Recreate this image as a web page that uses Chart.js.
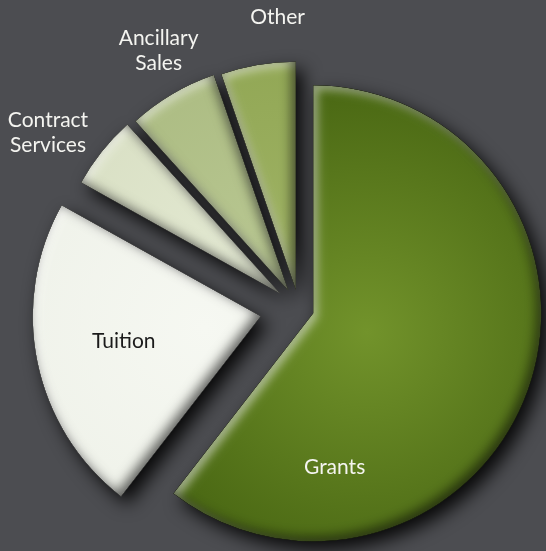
<!DOCTYPE html>
<html>
<head>
<meta charset="utf-8">
<script src="https://cdn.jsdelivr.net/npm/chart.js@4.4.1/dist/chart.umd.min.js"></script>
<style>
  html, body { margin: 0; padding: 0; background: #4c4d51; }
  #wrap { width: 546px; height: 551px; }
</style>
</head>
<body>
<div id="wrap"><canvas id="pie"></canvas></div>
<script>
const categories = ['Grants', 'Tuition', 'Contract Services', 'Ancillary Sales', 'Other']
const shares = [60.5, 22.6, 5.2, 6.4, 5.3]

const lightColors = ['#72932b', '#f6f8f2', '#e3e9d2', '#b7c690', '#9db162']
const darkColors = ['#4b6914', '#eef1e8', '#d6ddc0', '#a9b97f', '#8ea451']
const explode = [15, 39, 24, 21, 19]
const labelFrac = [0.79, 0.52, 0.30, 0.60, 0.80]
const labelDist = [0.68, 0.61, 1.24, 1.20, 1.20]
const labelColors = ['#f4f4f0', '#1b1b1b', '#f4f4f0', '#f4f4f0', '#f4f4f0']

function slicePath(ctx, p, arc) {
  ctx.beginPath()
  ctx.moveTo(p.x, p.y)
  ctx.arc(p.x, p.y, arc.outerRadius, arc.startAngle, arc.endAngle)
  ctx.closePath()
}

// where the slice tip ends up after pulling it out
function shifted(arc) {
  const mid = (arc.startAngle + arc.endAngle) / 2
  const off = arc.options.offset || 0
  return { x: arc.x + Math.cos(mid) * off, y: arc.y + Math.sin(mid) * off }
}

function innerShadow(ctx, p, arc, color, dx, dy, blur) {
  ctx.save()
  ctx.shadowColor = color
  ctx.shadowBlur = blur
  ctx.shadowOffsetX = dx
  ctx.shadowOffsetY = dy
  ctx.beginPath()
  ctx.rect(-2000, -2000, 5000, 5000)
  ctx.moveTo(p.x, p.y)
  ctx.arc(p.x, p.y, arc.outerRadius, arc.startAngle, arc.endAngle)
  ctx.closePath()
  ctx.fillStyle = '#000'
  ctx.fill('evenodd')
  ctx.restore()
}

const glossyPie = {
  id: 'glossyPie',
  beforeDatasetDraw(chart, args) {
    const ctx = chart.ctx
    const arcs = args.meta.data

    // drop shadows first so they only darken the background
    arcs.forEach(arc => {
      const p = shifted(arc)
      ctx.save()
      ctx.shadowColor = 'rgba(0,0,0,0.9)'
      ctx.shadowBlur = 18
      ctx.shadowOffsetX = 7
      ctx.shadowOffsetY = 8
      ctx.fillStyle = '#1c1d20'
      slicePath(ctx, p, arc)
      ctx.fill()
      ctx.restore()
    })

    arcs.forEach((arc, i) => {
      const p = shifted(arc)
      const r = arc.outerRadius
      const mid = (arc.startAngle + arc.endAngle) / 2
      const gx = p.x + Math.cos(mid) * r * 0.25
      const gy = p.y + Math.sin(mid) * r * 0.25
      const g = ctx.createRadialGradient(gx, gy, 0, gx, gy, r * 1.05)
      g.addColorStop(0, lightColors[i])
      g.addColorStop(1, darkColors[i])
      ctx.save()
      slicePath(ctx, p, arc)
      ctx.fillStyle = g
      ctx.fill()
      ctx.clip()
      innerShadow(ctx, p, arc, 'rgba(255,255,255,0.55)', 4, 4, 10)
      innerShadow(ctx, p, arc, 'rgba(0,0,0,0.6)', -4, -4, 12)
      ctx.restore()
    })
    return false
  },
  afterDatasetsDraw(chart) {
    const ctx = chart.ctx
    const arcs = chart.getDatasetMeta(0).data
    ctx.save()
    ctx.font = '21px Lato'
    ctx.textAlign = 'center'
    ctx.textBaseline = 'alphabetic'
    arcs.forEach((arc, i) => {
      const p = shifted(arc)
      const a = arc.startAngle + (arc.endAngle - arc.startAngle) * labelFrac[i]
      const d = arc.outerRadius * labelDist[i]
      const x = p.x + Math.cos(a) * d
      const y = p.y + Math.sin(a) * d
      const lines = categories[i].split(' ')
      ctx.fillStyle = labelColors[i]
      lines.forEach((t, k) => {
        ctx.fillText(t, x, y + 7.5 + (k - (lines.length - 1) / 2) * 25)
      })
    })
    ctx.restore()
  }
}

new Chart(document.getElementById('pie'), {
  type: 'pie',
  data: {
    labels: categories,
    datasets: [
      {
        data: shares,
        backgroundColor: lightColors,
        borderWidth: 0,
        offset: explode,
        radius: 228,
      },
    ],
  },
  options: {
    responsive: true,
    maintainAspectRatio: false,
    animation: false,
    events: [],
    layout: { padding: { left: 52, right: 0, top: 66, bottom: 0 } },
    plugins: {
      legend: { display: false },
      tooltip: { enabled: false },
    },
  },
  plugins: [glossyPie],
})
</script>
</body>
</html>
